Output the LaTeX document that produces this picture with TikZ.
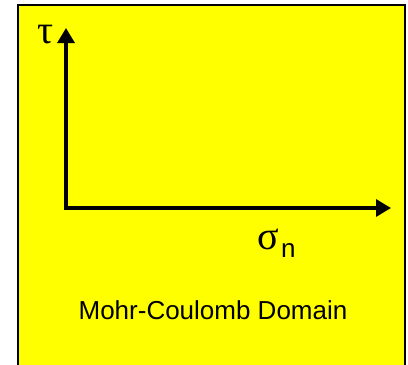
\documentclass[tikz,border=0pt]{standalone}
\usepackage{fontspec}
\setmainfont{Liberation Sans}
\newfontfamily\greekfont{Liberation Serif}
\usetikzlibrary{arrows.meta, positioning}
\definecolor{domainYellow}{HTML}{FFFF00}

\begin{document}
\begin{tikzpicture}[
    x=1pt, y=-1pt,
    >={Triangle[length=15pt, width=17pt]},
    axis/.style={<->, line width=3.2pt},
    greek/.style={font=\greekfont\fontsize{40}{40}\selectfont, inner sep=0pt},
    subscript/.style={font=\fontsize{26}{26}\selectfont, inner sep=0pt},
    caption/.style={font=\fontsize{26}{26}\selectfont, inner sep=0pt}
]
    \useasboundingbox (0,0) rectangle (408,365);
    \draw[fill=domainYellow, line width=1.5pt] (18,5) rectangle (405,367);

    % axes
    \coordinate (O) at (66,208);
    \coordinate (tauTip) at (66,28);
    \coordinate (sigmaTip) at (391,208);
    \draw[axis] (tauTip) -- (O) -- (sigmaTip);

    % labels
    \node[greek, anchor=base] (tau) at (45.5,43.5) {τ};
    \node[greek, anchor=base] (sigma) at (268,249.5) {σ};
    \node[subscript, anchor=base west] (n) at (281,257) {n};
    \node[caption, anchor=base] (domain) at (213,319) {Mohr-Coulomb Domain};
\end{tikzpicture}
\end{document}
